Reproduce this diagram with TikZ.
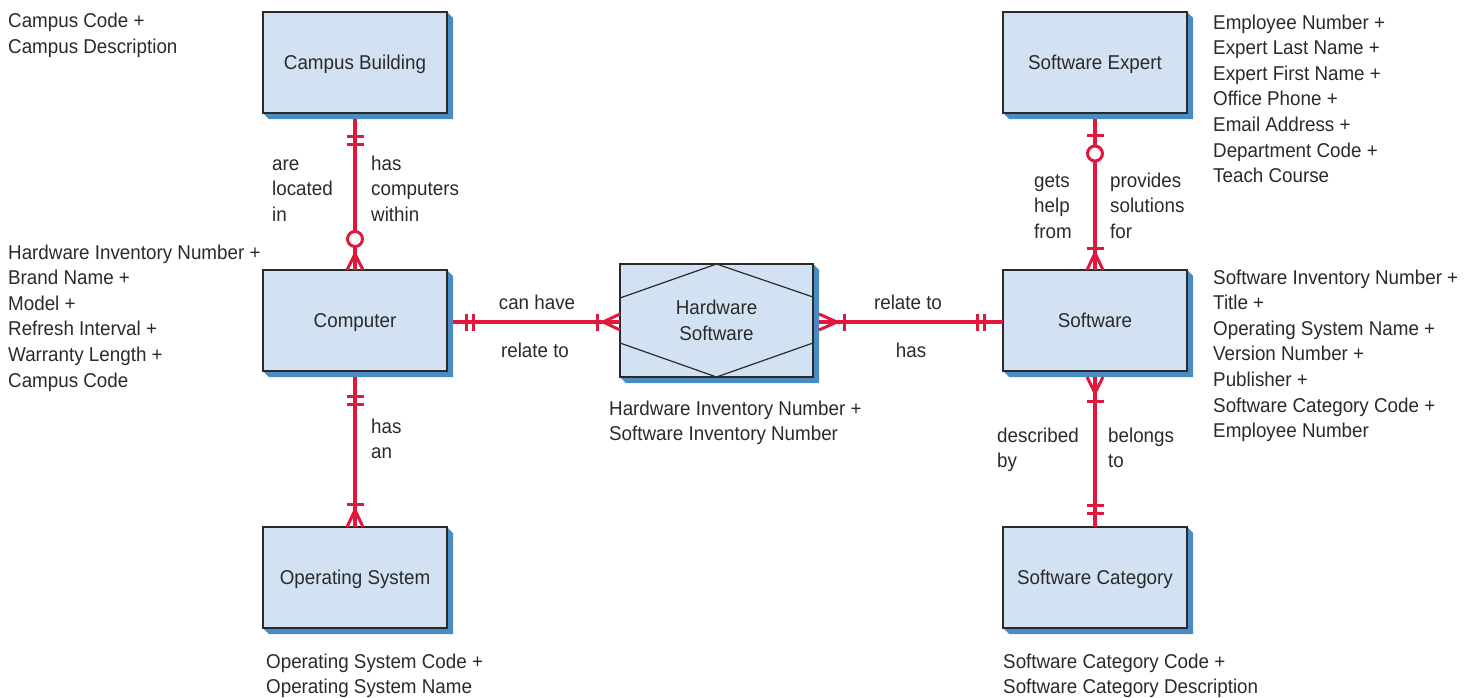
\documentclass[tikz,border=0pt]{standalone}
\usepackage{fontspec}
\setmainfont{Liberation Sans}[FakeStretch=0.94]
\usetikzlibrary{calc,backgrounds}
\definecolor{boxfill}{HTML}{D3E2F2}
\definecolor{shadowc}{HTML}{4A8BC4}
\definecolor{relred}{HTML}{E2173E}
\definecolor{ink}{HTML}{2A2A2A}
\newcommand\eshadow[1]{%
  \begin{pgfonlayer}{background}
  \fill[shadowc] (#1.north east) -- ($(#1.north east)+(6,6)$) -- ($(#1.south east)+(6,6)$)
     -- ($(#1.south west)+(6,6)$) -- (#1.south west) -- cycle;
  \end{pgfonlayer}}
\begin{document}
\begin{tikzpicture}[x=1pt,y=-1pt,
  txt/.style={font=\fontsize{20}{25.6}\selectfont, text=ink, inner sep=0pt, anchor=base west, align=left},
  entitybox/.style={draw=ink, line width=1.3pt, fill=boxfill, minimum width=184pt, minimum height=101pt,
     inner sep=0pt, outer sep=0pt, font=\fontsize{20}{25.6}\selectfont, text=ink},
  entity/.style={entitybox, text height=14.5pt, text depth=0pt},
  rel/.style={draw=relred, line width=3.5pt},
  bar/.style={draw=relred, line width=3pt},
  crow/.style={draw=relred, line width=3pt, line join=miter},
  ring/.style={draw=relred, line width=3pt, fill=white},
  hexline/.style={draw=ink, line width=1.2pt}
]
\useasboundingbox (0,0) rectangle (1472,697);

% entities
\node[entity] (cb) at (355,62.5) {Campus Building};
\node[entity] (comp) at (355,320.5) {Computer};
\node[entity] (os) at (355,577.5) {Operating System};
\node[entity] (se) at (1095,62.5) {Software Expert};
\node[entity] (sw) at (1095,320.5) {Software};
\node[entity] (sc) at (1095,577.5) {Software Category};
\node[entitybox, minimum width=193pt, minimum height=113pt, align=center] (hw) at (716.5,320.5) {Hardware\\Software};
\draw[hexline] ($(hw.north west)+(0,34)$) -- (hw.north) -- ($(hw.north east)+(0,33)$);
\draw[hexline] ($(hw.south west)+(0,-34)$) -- (hw.south) -- ($(hw.south east)+(0,-34)$);
\eshadow{cb}\eshadow{comp}\eshadow{os}\eshadow{se}\eshadow{sw}\eshadow{sc}\eshadow{hw}

% Campus Building -- Computer
\draw[rel] ($(cb.south)+(0,6)$) -- (comp.north);
\draw[bar] ($(cb.south)+(-8.5,23)$) -- ++(17,0);
\draw[bar] ($(cb.south)+(-8.5,31)$) -- ++(17,0);
\draw[crow] ($(comp.north)+(-8,0)$) -- ($(comp.north)+(0,-16)$) -- ($(comp.north)+(8,0)$);
\draw[ring] ($(comp.north)+(0,-31)$) circle[radius=7.5pt];

% Computer -- Operating System
\draw[rel] ($(comp.south)+(0,6)$) -- (os.north);
\draw[bar] ($(comp.south)+(-8.5,25)$) -- ++(17,0);
\draw[bar] ($(comp.south)+(-8.5,33)$) -- ++(17,0);
\draw[bar] ($(os.north)+(-8.5,-23)$) -- ++(17,0);
\draw[crow] ($(os.north)+(-8,0)$) -- ($(os.north)+(0,-17)$) -- ($(os.north)+(8,0)$);

% Computer -- Hardware Software
\draw[rel] ($(comp.east)+(6,1.5)$) -- ($(hw.west)+(0,1.5)$);
\draw[bar] ($(comp.east)+(19,-7)$) -- ++(0,17);
\draw[bar] ($(comp.east)+(26,-7)$) -- ++(0,17);
\draw[bar] ($(hw.west)+(-23,-7)$) -- ++(0,17);
\draw[crow] ($(hw.west)+(0,-6.5)$) -- ($(hw.west)+(-17,1.5)$) -- ($(hw.west)+(0,9.5)$);

% Hardware Software -- Software
\draw[rel] ($(hw.east)+(6,1.5)$) -- ($(sw.west)+(0,1.5)$);
\draw[crow] ($(hw.east)+(6,-6.5)$) -- ($(hw.east)+(24,1.5)$) -- ($(hw.east)+(6,9.5)$);
\draw[bar] ($(hw.east)+(31,-7)$) -- ++(0,17);
\draw[bar] ($(sw.west)+(-26,-7)$) -- ++(0,17);
\draw[bar] ($(sw.west)+(-19,-7)$) -- ++(0,17);

% Software Expert -- Software
\draw[rel] ($(se.south)+(0,6)$) -- (sw.north);
\draw[bar] ($(se.south)+(-8.5,22)$) -- ++(17,0);
\draw[ring] ($(se.south)+(0,40.5)$) circle[radius=7.5pt];
\draw[bar] ($(sw.north)+(-8.5,-22)$) -- ++(17,0);
\draw[crow] ($(sw.north)+(-8,0)$) -- ($(sw.north)+(0,-17)$) -- ($(sw.north)+(8,0)$);

% Software -- Software Category
\draw[rel] ($(sw.south)+(0,6)$) -- (sc.north);
\draw[crow] ($(sw.south)+(-8,6)$) -- ($(sw.south)+(0,22)$) -- ($(sw.south)+(8,6)$);
\draw[bar] ($(sw.south)+(-8.5,30)$) -- ++(17,0);
\draw[bar] ($(sc.north)+(-8.5,-22)$) -- ++(17,0);
\draw[bar] ($(sc.north)+(-8.5,-14)$) -- ++(17,0);

% relationship labels (anchored at the baseline of the last line)
\node[txt] (l1) at (272,221.2) {are\\located\\in};
\node[txt] (l2) at (371,221.2) {has\\computers\\within};
\node[txt] (l3) at (371,458.6) {has\\an};
\node[txt, anchor=base] (l4) at (537,309) {can have};
\node[txt, anchor=base] (l5) at (535,357) {relate to};
\node[txt, anchor=base] (l6) at (908,309) {relate to};
\node[txt, anchor=base] (l7) at (911,357) {has};
\node[txt] (l8) at (1034,238.2) {gets\\help\\from};
\node[txt] (l9) at (1110,238.2) {provides\\solutions\\for};
\node[txt] (l10) at (997,467.6) {described\\by};
\node[txt] (l11) at (1108,467.6) {belongs\\to};

% attributes (anchored at the baseline of the last line)
\node[txt] (a1) at (8,53) {Campus Code +\\Campus Description};
\node[txt] (a2) at (8,387) {Hardware Inventory Number +\\Brand Name +\\Model +\\Refresh Interval +\\Warranty Length +\\Campus Code};
\node[txt] (a3) at (266,693.6) {Operating System Code +\\Operating System Name};
\node[txt] (a4) at (609,440.6) {Hardware Inventory Number +\\Software Inventory Number};
\node[txt] (a5) at (1213,182.6) {Employee Number +\\Expert Last Name +\\Expert First Name +\\Office Phone +\\Email Address +\\Department Code +\\Teach Course};
\node[txt] (a6) at (1213,437.6) {Software Inventory Number +\\Title +\\Operating System Name +\\Version Number +\\Publisher +\\Software Category Code +\\Employee Number};
\node[txt] (a7) at (1003,693.6) {Software Category Code +\\Software Category Description};
\end{tikzpicture}
\end{document}
